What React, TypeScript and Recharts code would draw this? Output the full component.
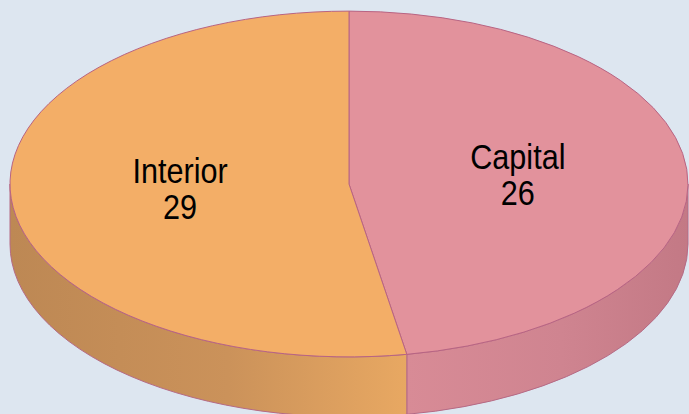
import { PieChart, Pie } from "recharts"

const categories = ["Capital", "Interior"]
const counts = [26, 29]
const fills = ["#e2929c", "#f3ae67"]

const data = categories.map((name, i) => ({ name, value: counts[i], fill: fills[i] }))

const W = 689
const H = 414
const SQUASH = 0.51
const DEPTH = 60
const RAD = Math.PI / 180

const wallStops: Record<string, string[]> = {
  Capital: ["#d88b96", "#cf8490", "#c37985"],
  Interior: ["#bd8854", "#cb925a", "#e8a862"],
}

function pt(cx: number, cy: number, rx: number, ry: number, a: number, dy = 0) {
  return [cx + rx * Math.cos(a * RAD), cy - ry * Math.sin(a * RAD) + dy]
}

function Slice3D(props: any) {
  const { cx, cy, outerRadius, startAngle, endAngle, fill, name, index } = props
  const rx = outerRadius
  const ry = outerRadius * SQUASH
  const hi = Math.max(startAngle, endAngle)
  const lo = Math.min(startAngle, endAngle)
  const large = hi - lo > 180 ? 1 : 0
  const s = pt(cx, cy, rx, ry, hi)
  const e = pt(cx, cy, rx, ry, lo)
  const top = `M${cx},${cy} L${s[0]},${s[1]} A${rx},${ry} 0 ${large} 1 ${e[0]},${e[1]} Z`

  // front-facing part of the rim
  const walls: string[] = []
  for (let k = -1; k <= 1; k++) {
    const a1 = Math.min(hi, 360 * k)
    const a2 = Math.max(lo, 360 * k - 180)
    if (a1 - a2 > 0.01) {
      const p1 = pt(cx, cy, rx, ry, a1)
      const p2 = pt(cx, cy, rx, ry, a2)
      const b1 = pt(cx, cy, rx, ry, a1, DEPTH)
      const b2 = pt(cx, cy, rx, ry, a2, DEPTH)
      walls.push(
        `M${p1[0]},${p1[1]} A${rx},${ry} 0 0 1 ${p2[0]},${p2[1]} L${b2[0]},${b2[1]} A${rx},${ry} 0 0 0 ${b1[0]},${b1[1]} Z`
      )
    }
  }
  const gid = `wall-${index}`
  const stops = wallStops[name] || [fill, fill, fill]

  return (
    <g>
      <defs>
        <linearGradient id={gid} x1="0" y1="0" x2="1" y2="0">
          <stop offset="0%" stopColor={stops[0]} />
          <stop offset="55%" stopColor={stops[1]} />
          <stop offset="100%" stopColor={stops[2]} />
        </linearGradient>
      </defs>
      {walls.map((d, i) => (
        <path key={i} d={d} fill={`url(#${gid})`} stroke="#b56a85" strokeWidth={1} />
      ))}
      <path d={top} fill={fill} stroke="#b86483" strokeWidth={1} strokeLinejoin="round" />
    </g>
  )
}

function renderLabel(props: any) {
  const { cx, cy, midAngle, outerRadius, name, value } = props
  const r = outerRadius * 0.5
  const x = cx + r * Math.cos(midAngle * RAD)
  const y = cy - r * SQUASH * Math.sin(midAngle * RAD)
  // no narrow font installed, so squeeze the text horizontally
  return (
    <text
      x={x}
      y={y - 8}
      textAnchor="middle"
      fill="#000"
      fontSize={36}
      fontFamily="'Liberation Sans', Arial, sans-serif"
      transform={`translate(${x},0) scale(0.85,1) translate(${-x},0)`}
    >
      <tspan x={x} dy={0}>{name}</tspan>
      <tspan x={x} dy={36}>{value}</tspan>
    </text>
  )
}

export default function App() {
  return (
    <div style={{ position: "absolute", left: 0, top: 0, width: W, height: H, background: "#dde6f0" }}>
      <PieChart width={W} height={H} margin={{ top: 0, right: 0, bottom: 0, left: 0 }}>
        <Pie
          data={data}
          dataKey="value"
          nameKey="name"
          cx={349}
          cy={184}
          outerRadius={339}
          startAngle={90}
          endAngle={-270}
          stroke="none"
          shape={Slice3D}
          activeShape={Slice3D}
          inactiveShape={Slice3D}
          label={renderLabel}
          labelLine={false}
          isAnimationActive={false}
        />
      </PieChart>
    </div>
  )
}
